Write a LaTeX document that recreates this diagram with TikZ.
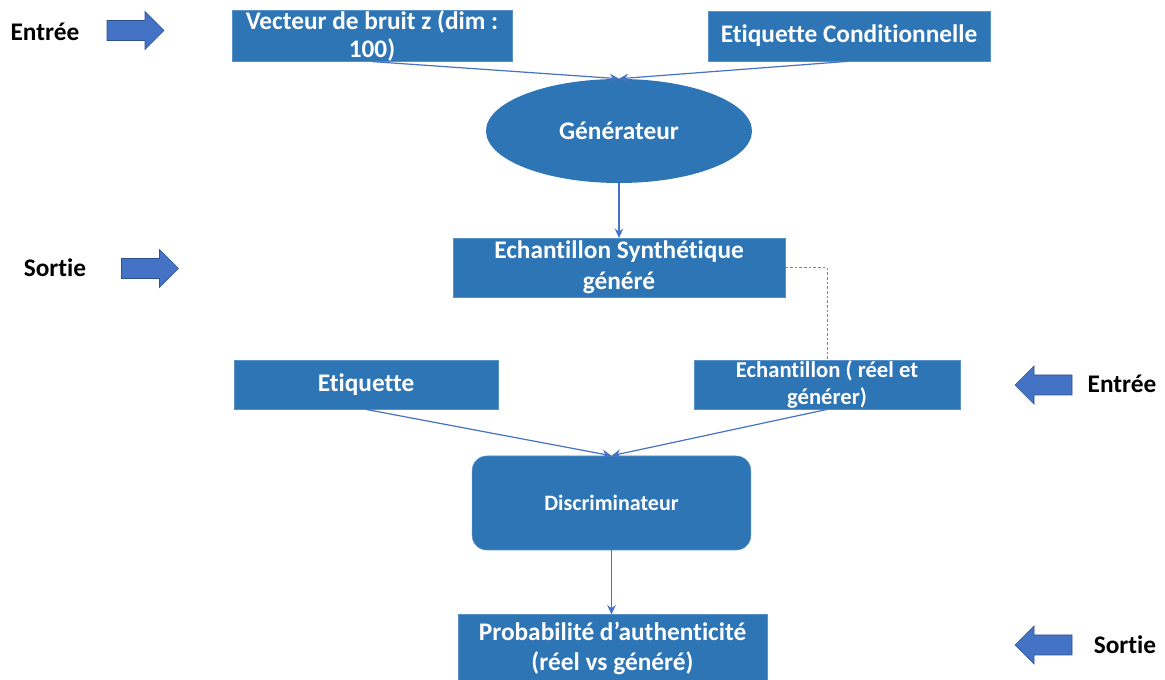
\documentclass[tikz,border=0pt]{standalone}
\usepackage{fontspec}
\setmainfont{Carlito}[Ligatures=NoCommon]
\usetikzlibrary{shapes.geometric,arrows.meta}
\definecolor{boxblue}{HTML}{2E75B6}
\definecolor{lineblue}{HTML}{4472C4}
\definecolor{arrowedge}{HTML}{2F528F}
\begin{document}
\begin{tikzpicture}[x=0.75pt,y=-0.75pt,
  box/.style={rectangle, fill=boxblue, draw=boxblue!80!white, line width=0.4pt, text=white,
    font=\fontsize{19}{21}\selectfont\bfseries, align=center, inner sep=0pt},
  conn/.style={draw=lineblue, line width=0.9pt, -{Stealth[length=7pt,width=6.5pt]}},
  side/.style={font=\fontsize{19}{20}\selectfont\bfseries, text=black, inner sep=0pt},
  blockarrow/.style={fill=lineblue, draw=arrowedge, line width=0.5pt, line join=miter}]
\useasboundingbox (0,0) rectangle (1165,680);
% generator part
\node[box, minimum width=210pt, minimum height=37.5pt] (vec) at (372,36) {Vecteur de bruit z (dim :\\100)};
\node[box, minimum width=211.5pt, minimum height=37.5pt] (cond) at (849,36) {Etiquette Conditionnelle};
\node[ellipse, fill=boxblue, text=white, font=\fontsize{19}{20}\selectfont\bfseries,
  minimum width=199.5pt, minimum height=78pt, inner sep=0pt] (gen) at (619,131) {Générateur};
\node[box, minimum width=249pt, minimum height=44pt, font=\fontsize{19}{23}\selectfont\bfseries] (synth) at (619,267.5) {Echantillon Synthétique\\généré};
% discriminator part
\node[box, minimum width=198pt, minimum height=37pt] (etiq) at (366,384.5) {Etiquette};
\node[box, minimum width=199.5pt, minimum height=37pt, font=\fontsize{17}{20}\selectfont\bfseries] (reel) at (827,384.5) {Echantillon ( réel et\\générer)};
\node[box, rounded corners=11pt, minimum width=209pt, minimum height=70.5pt, font=\fontsize{16.5}{18}\selectfont\bfseries] (disc) at (611.5,503) {Discriminateur};
\node[box, minimum width=232pt, minimum height=50pt, font=\fontsize{19}{22.5}\selectfont\bfseries] (proba) at (612.5,648) {Probabilité d’authenticité\\(réel vs généré)};
% connectors
\draw[conn] (vec.south) -- (gen.north);
\draw[conn] (cond.south) -- (gen.north);
\draw[conn] (gen.south) -- (synth.north);
\draw[draw=lineblue!85!white, line width=0.5pt, dash pattern=on 2pt off 1.5pt] (synth.east) -| (reel.north);
\draw[conn] (etiq.south) -- (disc.north);
\draw[conn] (reel.south) -- (disc.north);
\draw[conn] (disc.south) -- (disc.south |- proba.north);
% side labels
\node[side] (in1) at (45,32) {Entrée};
\node[side] (out1) at (55,268) {Sortie};
\node[side] (in2) at (1122,384) {Entrée};
\node[side] (out2) at (1125,645) {Sortie};
% block arrows
\coordinate (ar1) at (135.5,30.5);
\coordinate (ar2) at (150,268.5);
\coordinate (ar3) at (1043.5,385);
\coordinate (ar4) at (1043.5,645);
\foreach \c in {ar1,ar2}
  \draw[blockarrow, shift={(\c)}] (-28.5,-10) -- (9.5,-10) -- (9.5,-19) -- (28.5,0) -- (9.5,19) -- (9.5,10) -- (-28.5,10) -- cycle;
\foreach \c in {ar3,ar4}
  \draw[blockarrow, shift={(\c)}] (28.5,-10) -- (-9.5,-10) -- (-9.5,-19) -- (-28.5,0) -- (-9.5,19) -- (-9.5,10) -- (28.5,10) -- cycle;
\end{tikzpicture}
\end{document}
